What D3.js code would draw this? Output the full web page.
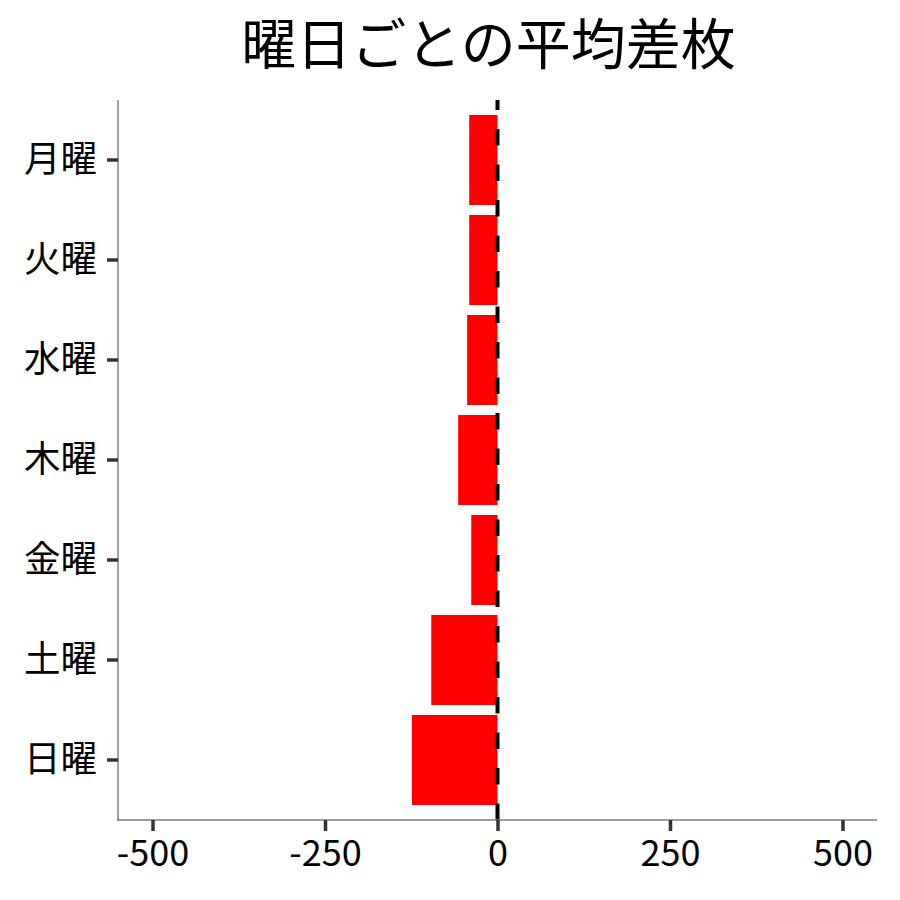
<!DOCTYPE html>
<html lang='ja'>
  <head>
    <meta charset='utf-8'>
    <style type='text/css'>
      body {margin: 0; background-color: #fff;}
      svg {display: block;}
      text {font-family: 'Noto Sans CJK JP', 'Noto Sans', sans-serif;}
    </style>
  </head>
  <body>
    <svg id='chart' width='900' height='900'></svg>

    <script src='https://d3js.org/d3.v7.min.js'></script>
    <script type='text/javascript'>
        // 曜日ごとの平均差枚
        var days   = ["月曜", "火曜", "水曜", "木曜", "金曜", "土曜", "日曜"];
        var values = [-41, -41, -44, -57, -38, -96, -124];
        var xTicks = [-500, -250, 0, 250, 500];

        var svg = d3.select("#chart");

        // plot panel
        var panel = {left: 118, right: 877, top: 100, bottom: 820};

        var x = d3.scaleLinear().domain([-550, 550]).range([panel.left, panel.right]);
        var y = d3.scaleBand().domain(days).range([panel.top, panel.bottom])
            .paddingInner(0.1).paddingOuter(0.15);

        // bars
        svg.append("g").selectAll("rect").data(days)
          .enter().append("rect")
            .attr("x", function(d, i) { return x(Math.min(0, values[i])); })
            .attr("y", function(d) { return y(d); })
            .attr("width", function(d, i) { return Math.abs(x(values[i]) - x(0)); })
            .attr("height", y.bandwidth())
            .style("fill", "#ff0000");

        // zero line, dashed, drawn bottom to top
        svg.append("line")
            .attr("x1", x(0)).attr("x2", x(0))
            .attr("y1", panel.bottom).attr("y2", panel.top)
            .attr("stroke", "#000")
            .attr("stroke-width", 4)
            .attr("stroke-dasharray", "16.5,19");

        // x axis
        var xAxis = svg.append("g")
            .attr("transform", "translate(0," + panel.bottom + ")")
            .call(d3.axisBottom(x).tickValues(xTicks).tickSize(11).tickPadding(9)
              .tickFormat(function(d) { return d; }));
        xAxis.select(".domain").attr("stroke", "#7f7f7f").attr("stroke-width", 1.5)
            .attr("d", "M" + (panel.left - 1) + ",0H" + panel.right);
        xAxis.selectAll(".tick line").attr("stroke", "#333").attr("stroke-width", 3.5);
        xAxis.selectAll(".tick text").attr("fill", "#000")
            .attr("font-size", 36).attr("font-family", "'Noto Sans CJK JP', sans-serif");

        // y axis
        var yAxis = svg.append("g")
            .attr("transform", "translate(" + panel.left + ",0)")
            .call(d3.axisLeft(y).tickSize(11).tickPadding(10));
        yAxis.select(".domain").attr("stroke", "#7f7f7f").attr("stroke-width", 1.5)
            .attr("d", "M0," + panel.top + "V" + (panel.bottom + 1));
        yAxis.selectAll(".tick line").attr("stroke", "#333").attr("stroke-width", 3.5);
        yAxis.selectAll(".tick text").attr("fill", "#000")
            .attr("font-size", 36.5).attr("font-family", "'Noto Sans CJK JP', sans-serif");

        // title
        svg.append("text")
            .attr("x", (panel.left + panel.right) / 2 - 9)
            .attr("y", 64)
            .attr("text-anchor", "middle")
            .attr("font-size", 55)
            .style("fill", "#000")
            .text("曜日ごとの平均差枚");
    </script>
  </body>
</html>
